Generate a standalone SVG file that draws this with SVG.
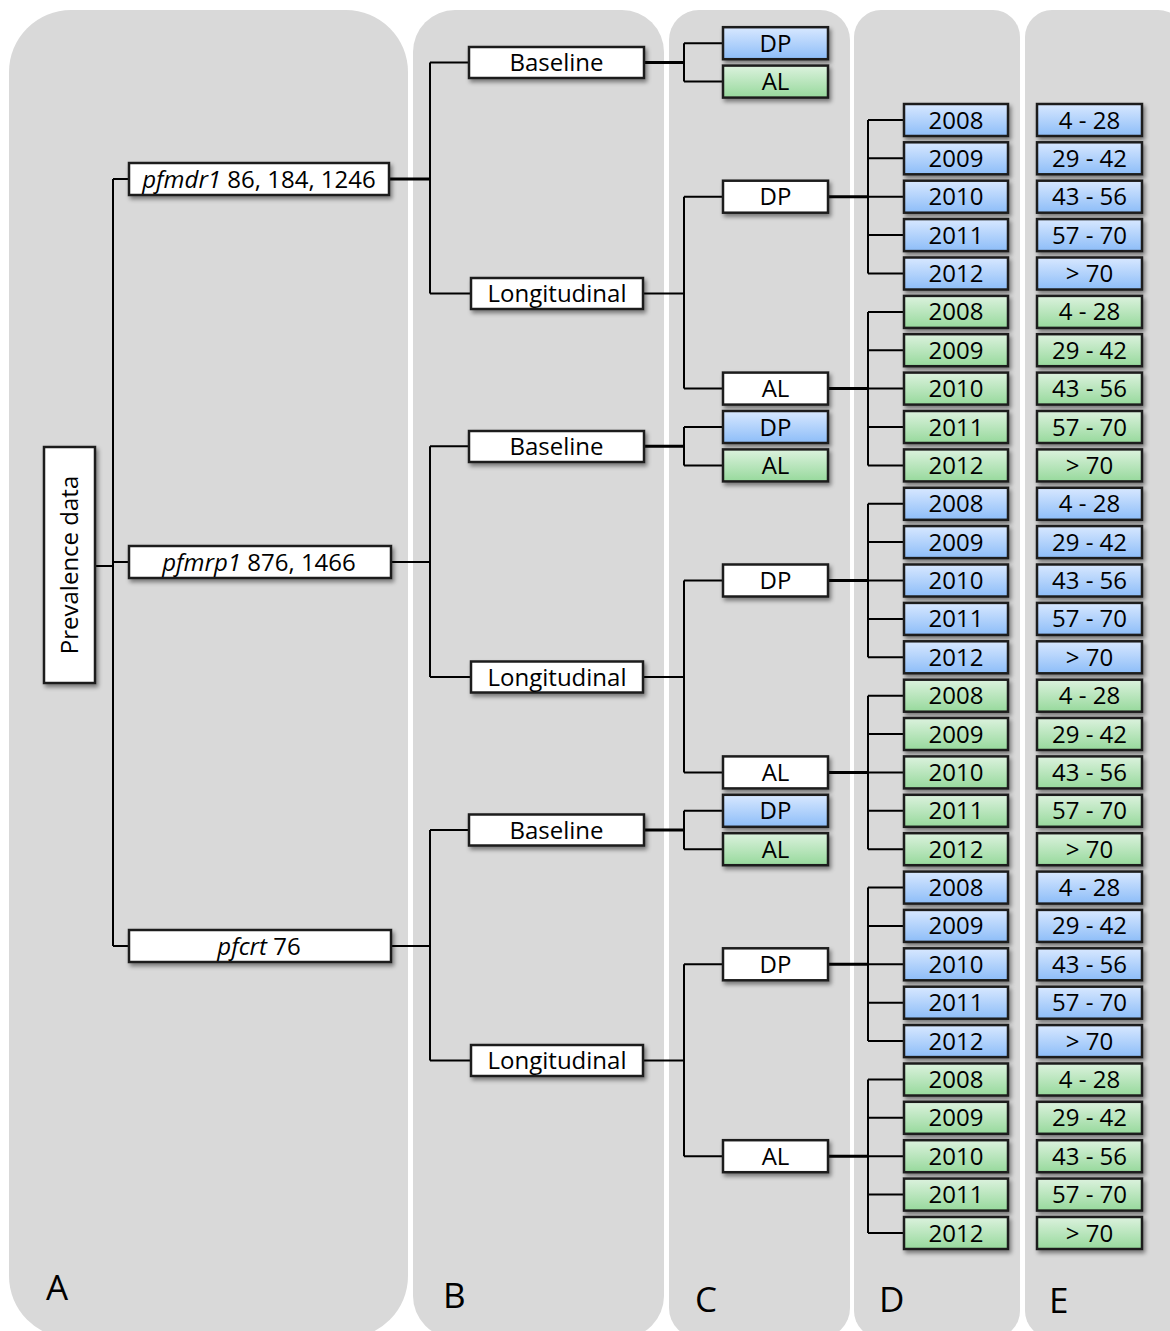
<svg xmlns="http://www.w3.org/2000/svg" width="1170" height="1331" viewBox="0 0 1170 1331">
<defs>
<linearGradient id="gBlue" x1="0" y1="0" x2="0" y2="1">
<stop offset="0" stop-color="#d8e8ff"/>
<stop offset="1" stop-color="#8dbdf8"/>
</linearGradient>
<linearGradient id="gGreen" x1="0" y1="0" x2="0" y2="1">
<stop offset="0" stop-color="#dcf2de"/>
<stop offset="1" stop-color="#97d99c"/>
</linearGradient>
<filter id="sh" x="-20%" y="-30%" width="140%" height="180%">
<feDropShadow dx="2" dy="3" stdDeviation="2" flood-color="#000" flood-opacity="0.45"/>
</filter>
</defs>
<style>
.panel{fill:#d9d9d9}
.box{stroke:#1e1e1e;stroke-width:2.5;filter:url(#sh)}
.w{fill:#ffffff}
.b{fill:url(#gBlue)}
.g{fill:url(#gGreen)}
text{font-family:"Open Sans","DejaVu Sans",sans-serif;font-size:24px;fill:#000;text-anchor:middle}
.lbl{font-size:35px;text-anchor:start}
.c{fill:none;stroke:#000;stroke-width:2}
.t{fill:none;stroke:#000;stroke-width:3}
</style>
<rect width="1170" height="1331" fill="#ffffff"/>
<g id="panels">
<rect class="panel" x="9" y="10" width="399" height="1328" rx="62" ry="62"/>
<rect class="panel" x="413" y="10" width="251" height="1328" rx="42" ry="42"/>
<rect class="panel" x="669" y="10" width="181" height="1328" rx="30" ry="30"/>
<rect class="panel" x="854" y="10" width="166" height="1328" rx="27" ry="27"/>
<rect class="panel" x="1025" y="10" width="160" height="1328" rx="27" ry="27"/>
<text class="lbl" x="46" y="1300">A</text>
<text class="lbl" x="443" y="1308">B</text>
<text class="lbl" x="695" y="1312">C</text>
<text class="lbl" x="879" y="1312">D</text>
<text class="lbl" x="1049" y="1313">E</text>
</g>
<g id="connectors">
<path class="c" d="M95 566H113M113 179V946M113 179H129M113 562H129M113 946H129"/>
<path class="t" d="M389 179H430"/>
<path class="c" d="M430 62.4V293.5M430 62.4H469M430 293.5H471"/>
<path class="c" d="M391 562H430M430 446.2V677M430 446.2H469M430 677H471"/>
<path class="c" d="M391 946H430M430 830V1060.5M430 830H469M430 1060.5H471"/>
<path class="t" d="M644 62.4H684M644 446.2H684M644 830H684"/>
<path class="c" d="M684 43.2V81.6M684 43.2H723M684 81.6H723"/>
<path class="c" d="M684 427V465.4M684 427H723M684 465.4H723"/>
<path class="c" d="M684 810.8V849.2M684 810.8H723M684 849.2H723"/>
<path class="c" d="M643 293.5H684M684 196.7V388.6M684 196.7H723M684 388.6H723"/>
<path class="c" d="M643 677H684M684 580.5V772.4M684 580.5H723M684 772.4H723"/>
<path class="c" d="M643 1060.5H684M684 964.3V1156.2M684 964.3H723M684 1156.2H723"/>
<path class="t" d="M828 196.7H868M828 388.6H868M828 580.5H868M828 772.4H868M828 964.3H868M828 1156.2H868"/>
<path class="c" d="M868 120V273.5M868 120H904M868 158.3H904M868 196.7H904M868 235.1H904M868 273.5H904"/>
<path class="c" d="M868 311.9V465.4M868 311.9H904M868 350.2H904M868 388.6H904M868 427H904M868 465.4H904"/>
<path class="c" d="M868 503.8V657.3M868 503.8H904M868 542.1H904M868 580.5H904M868 618.9H904M868 657.3H904"/>
<path class="c" d="M868 695.7V849.2M868 695.7H904M868 734H904M868 772.4H904M868 810.8H904M868 849.2H904"/>
<path class="c" d="M868 887.6V1041.1M868 887.6H904M868 925.9H904M868 964.3H904M868 1002.7H904M868 1041.1H904"/>
<path class="c" d="M868 1079.5V1233M868 1079.5H904M868 1117.8H904M868 1156.2H904M868 1194.6H904M868 1233H904"/>
</g>
<g id="n-prevalence"><rect class="box w" x="44" y="447" width="51" height="236"/><text transform="translate(78,565) rotate(-90)">Prevalence data</text></g>
<g id="n-pfmdr1"><rect class="box w" x="129" y="163" width="260" height="32"/><text x="259" y="187.5"><tspan font-style="italic">pfmdr1</tspan> 86, 184, 1246</text></g>
<g id="n-pfmrp1"><rect class="box w" x="129" y="546" width="262" height="32"/><text x="259" y="570.5"><tspan font-style="italic">pfmrp1</tspan> 876, 1466</text></g>
<g id="n-pfcrt"><rect class="box w" x="129" y="930" width="262" height="32"/><text x="259" y="954.5"><tspan font-style="italic">pfcrt</tspan> 76</text></g>
<g id="n-base1"><rect class="box w" x="469" y="47" width="175" height="31"/><text x="556.5" y="71">Baseline</text></g>
<g id="n-long1"><rect class="box w" x="471" y="278" width="172" height="31"/><text x="557" y="302">Longitudinal</text></g>
<g id="n-base2"><rect class="box w" x="469" y="431" width="175" height="31"/><text x="556.5" y="455">Baseline</text></g>
<g id="n-long2"><rect class="box w" x="471" y="661.5" width="172" height="31"/><text x="557" y="685.5">Longitudinal</text></g>
<g id="n-base3"><rect class="box w" x="469" y="814.5" width="175" height="31"/><text x="556.5" y="838.5">Baseline</text></g>
<g id="n-long3"><rect class="box w" x="471" y="1045" width="172" height="31"/><text x="557" y="1069">Longitudinal</text></g>
<g id="n-c1dp"><rect class="box b" x="723" y="27.2" width="105" height="32"/><text x="775.5" y="51.7">DP</text></g>
<g id="n-c1al"><rect class="box g" x="723" y="65.6" width="105" height="32"/><text x="775.5" y="90.1">AL</text></g>
<g id="n-c2dp"><rect class="box w" x="723" y="180.7" width="105" height="32"/><text x="775.5" y="205.2">DP</text></g>
<g id="n-c2al"><rect class="box w" x="723" y="372.6" width="105" height="32"/><text x="775.5" y="397.1">AL</text></g>
<g id="n-c3dp"><rect class="box b" x="723" y="411" width="105" height="32"/><text x="775.5" y="435.5">DP</text></g>
<g id="n-c3al"><rect class="box g" x="723" y="449.4" width="105" height="32"/><text x="775.5" y="473.9">AL</text></g>
<g id="n-c4dp"><rect class="box w" x="723" y="564.5" width="105" height="32"/><text x="775.5" y="589">DP</text></g>
<g id="n-c4al"><rect class="box w" x="723" y="756.4" width="105" height="32"/><text x="775.5" y="780.9">AL</text></g>
<g id="n-c5dp"><rect class="box b" x="723" y="794.8" width="105" height="32"/><text x="775.5" y="819.3">DP</text></g>
<g id="n-c5al"><rect class="box g" x="723" y="833.2" width="105" height="32"/><text x="775.5" y="857.7">AL</text></g>
<g id="n-c6dp"><rect class="box w" x="723" y="948.3" width="105" height="32"/><text x="775.5" y="972.8">DP</text></g>
<g id="n-c6al"><rect class="box w" x="723" y="1140.2" width="105" height="32"/><text x="775.5" y="1164.7">AL</text></g>
<g id="n-d02"><rect class="box b" x="904" y="104" width="104" height="32"/><text x="956" y="128.5">2008</text></g>
<g id="n-d03"><rect class="box b" x="904" y="142.3" width="104" height="32"/><text x="956" y="166.8">2009</text></g>
<g id="n-d04"><rect class="box b" x="904" y="180.7" width="104" height="32"/><text x="956" y="205.2">2010</text></g>
<g id="n-d05"><rect class="box b" x="904" y="219.1" width="104" height="32"/><text x="956" y="243.6">2011</text></g>
<g id="n-d06"><rect class="box b" x="904" y="257.5" width="104" height="32"/><text x="956" y="282">2012</text></g>
<g id="n-d07"><rect class="box g" x="904" y="295.9" width="104" height="32"/><text x="956" y="320.4">2008</text></g>
<g id="n-d08"><rect class="box g" x="904" y="334.2" width="104" height="32"/><text x="956" y="358.7">2009</text></g>
<g id="n-d09"><rect class="box g" x="904" y="372.6" width="104" height="32"/><text x="956" y="397.1">2010</text></g>
<g id="n-d10"><rect class="box g" x="904" y="411" width="104" height="32"/><text x="956" y="435.5">2011</text></g>
<g id="n-d11"><rect class="box g" x="904" y="449.4" width="104" height="32"/><text x="956" y="473.9">2012</text></g>
<g id="n-d12"><rect class="box b" x="904" y="487.8" width="104" height="32"/><text x="956" y="512.3">2008</text></g>
<g id="n-d13"><rect class="box b" x="904" y="526.1" width="104" height="32"/><text x="956" y="550.6">2009</text></g>
<g id="n-d14"><rect class="box b" x="904" y="564.5" width="104" height="32"/><text x="956" y="589">2010</text></g>
<g id="n-d15"><rect class="box b" x="904" y="602.9" width="104" height="32"/><text x="956" y="627.4">2011</text></g>
<g id="n-d16"><rect class="box b" x="904" y="641.3" width="104" height="32"/><text x="956" y="665.8">2012</text></g>
<g id="n-d17"><rect class="box g" x="904" y="679.7" width="104" height="32"/><text x="956" y="704.2">2008</text></g>
<g id="n-d18"><rect class="box g" x="904" y="718" width="104" height="32"/><text x="956" y="742.5">2009</text></g>
<g id="n-d19"><rect class="box g" x="904" y="756.4" width="104" height="32"/><text x="956" y="780.9">2010</text></g>
<g id="n-d20"><rect class="box g" x="904" y="794.8" width="104" height="32"/><text x="956" y="819.3">2011</text></g>
<g id="n-d21"><rect class="box g" x="904" y="833.2" width="104" height="32"/><text x="956" y="857.7">2012</text></g>
<g id="n-d22"><rect class="box b" x="904" y="871.6" width="104" height="32"/><text x="956" y="896.1">2008</text></g>
<g id="n-d23"><rect class="box b" x="904" y="909.9" width="104" height="32"/><text x="956" y="934.4">2009</text></g>
<g id="n-d24"><rect class="box b" x="904" y="948.3" width="104" height="32"/><text x="956" y="972.8">2010</text></g>
<g id="n-d25"><rect class="box b" x="904" y="986.7" width="104" height="32"/><text x="956" y="1011.2">2011</text></g>
<g id="n-d26"><rect class="box b" x="904" y="1025.1" width="104" height="32"/><text x="956" y="1049.6">2012</text></g>
<g id="n-d27"><rect class="box g" x="904" y="1063.5" width="104" height="32"/><text x="956" y="1088">2008</text></g>
<g id="n-d28"><rect class="box g" x="904" y="1101.8" width="104" height="32"/><text x="956" y="1126.3">2009</text></g>
<g id="n-d29"><rect class="box g" x="904" y="1140.2" width="104" height="32"/><text x="956" y="1164.7">2010</text></g>
<g id="n-d30"><rect class="box g" x="904" y="1178.6" width="104" height="32"/><text x="956" y="1203.1">2011</text></g>
<g id="n-d31"><rect class="box g" x="904" y="1217" width="104" height="32"/><text x="956" y="1241.5">2012</text></g>
<g id="n-e02"><rect class="box b" x="1037" y="104" width="105" height="32"/><text x="1089.5" y="128.5">4 - 28</text></g>
<g id="n-e03"><rect class="box b" x="1037" y="142.3" width="105" height="32"/><text x="1089.5" y="166.8">29 - 42</text></g>
<g id="n-e04"><rect class="box b" x="1037" y="180.7" width="105" height="32"/><text x="1089.5" y="205.2">43 - 56</text></g>
<g id="n-e05"><rect class="box b" x="1037" y="219.1" width="105" height="32"/><text x="1089.5" y="243.6">57 - 70</text></g>
<g id="n-e06"><rect class="box b" x="1037" y="257.5" width="105" height="32"/><text x="1089.5" y="282">&gt; 70</text></g>
<g id="n-e07"><rect class="box g" x="1037" y="295.9" width="105" height="32"/><text x="1089.5" y="320.4">4 - 28</text></g>
<g id="n-e08"><rect class="box g" x="1037" y="334.2" width="105" height="32"/><text x="1089.5" y="358.7">29 - 42</text></g>
<g id="n-e09"><rect class="box g" x="1037" y="372.6" width="105" height="32"/><text x="1089.5" y="397.1">43 - 56</text></g>
<g id="n-e10"><rect class="box g" x="1037" y="411" width="105" height="32"/><text x="1089.5" y="435.5">57 - 70</text></g>
<g id="n-e11"><rect class="box g" x="1037" y="449.4" width="105" height="32"/><text x="1089.5" y="473.9">&gt; 70</text></g>
<g id="n-e12"><rect class="box b" x="1037" y="487.8" width="105" height="32"/><text x="1089.5" y="512.3">4 - 28</text></g>
<g id="n-e13"><rect class="box b" x="1037" y="526.1" width="105" height="32"/><text x="1089.5" y="550.6">29 - 42</text></g>
<g id="n-e14"><rect class="box b" x="1037" y="564.5" width="105" height="32"/><text x="1089.5" y="589">43 - 56</text></g>
<g id="n-e15"><rect class="box b" x="1037" y="602.9" width="105" height="32"/><text x="1089.5" y="627.4">57 - 70</text></g>
<g id="n-e16"><rect class="box b" x="1037" y="641.3" width="105" height="32"/><text x="1089.5" y="665.8">&gt; 70</text></g>
<g id="n-e17"><rect class="box g" x="1037" y="679.7" width="105" height="32"/><text x="1089.5" y="704.2">4 - 28</text></g>
<g id="n-e18"><rect class="box g" x="1037" y="718" width="105" height="32"/><text x="1089.5" y="742.5">29 - 42</text></g>
<g id="n-e19"><rect class="box g" x="1037" y="756.4" width="105" height="32"/><text x="1089.5" y="780.9">43 - 56</text></g>
<g id="n-e20"><rect class="box g" x="1037" y="794.8" width="105" height="32"/><text x="1089.5" y="819.3">57 - 70</text></g>
<g id="n-e21"><rect class="box g" x="1037" y="833.2" width="105" height="32"/><text x="1089.5" y="857.7">&gt; 70</text></g>
<g id="n-e22"><rect class="box b" x="1037" y="871.6" width="105" height="32"/><text x="1089.5" y="896.1">4 - 28</text></g>
<g id="n-e23"><rect class="box b" x="1037" y="909.9" width="105" height="32"/><text x="1089.5" y="934.4">29 - 42</text></g>
<g id="n-e24"><rect class="box b" x="1037" y="948.3" width="105" height="32"/><text x="1089.5" y="972.8">43 - 56</text></g>
<g id="n-e25"><rect class="box b" x="1037" y="986.7" width="105" height="32"/><text x="1089.5" y="1011.2">57 - 70</text></g>
<g id="n-e26"><rect class="box b" x="1037" y="1025.1" width="105" height="32"/><text x="1089.5" y="1049.6">&gt; 70</text></g>
<g id="n-e27"><rect class="box g" x="1037" y="1063.5" width="105" height="32"/><text x="1089.5" y="1088">4 - 28</text></g>
<g id="n-e28"><rect class="box g" x="1037" y="1101.8" width="105" height="32"/><text x="1089.5" y="1126.3">29 - 42</text></g>
<g id="n-e29"><rect class="box g" x="1037" y="1140.2" width="105" height="32"/><text x="1089.5" y="1164.7">43 - 56</text></g>
<g id="n-e30"><rect class="box g" x="1037" y="1178.6" width="105" height="32"/><text x="1089.5" y="1203.1">57 - 70</text></g>
<g id="n-e31"><rect class="box g" x="1037" y="1217" width="105" height="32"/><text x="1089.5" y="1241.5">&gt; 70</text></g>
</svg>
